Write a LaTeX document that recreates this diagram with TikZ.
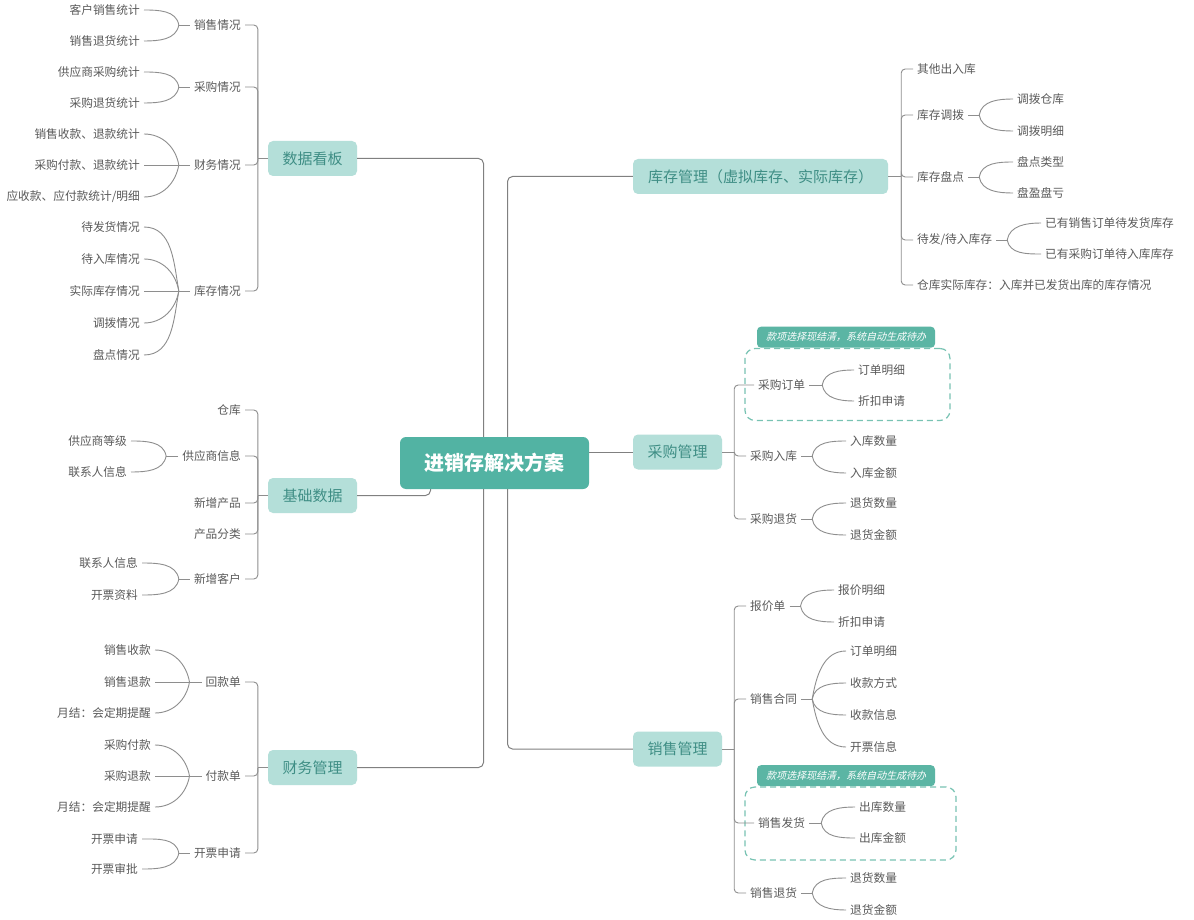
\documentclass[tikz,border=0pt]{standalone}
\usepackage{fontspec}
\setmainfont{Noto Sans CJK SC}
\newfontfamily\cjkit[FakeSlant=0.25]{Noto Sans CJK SC}
\definecolor{mainfill}{HTML}{B4DFD9}
\definecolor{maintext}{HTML}{3F8E85}
\definecolor{rootfill}{HTML}{52B3A3}
\definecolor{calfill}{HTML}{5BB5A4}
\definecolor{dashc}{HTML}{78C3B3}
\definecolor{linegray}{HTML}{8E8E8E}
\definecolor{txtgray}{HTML}{5A5A5A}
\begin{document}
\begin{tikzpicture}[x=1pt,y=1pt,
  rootbox/.style={fill=rootfill, text=white, rounded corners=6pt, minimum width=189pt, minimum height=52pt, inner sep=0pt, font=\fontsize{20}{24}\selectfont\bfseries},
  mainbox/.style={fill=mainfill, text=maintext, rounded corners=5pt, minimum width=89pt, minimum height=35pt, inner sep=0pt, font=\fontsize{15}{18}\selectfont},
  mid/.style={text=txtgray, inner sep=4pt, font=\fontsize{11.7}{14}\selectfont},
  leaf/.style={text=txtgray, inner sep=4pt, font=\fontsize{11.7}{14}\selectfont},
  conn/.style={draw=linegray, line width=0.9pt, rounded corners=4pt},
  rootline/.style={draw=linegray!90!black, line width=1pt, rounded corners=5pt},
  fan/.style={draw=linegray, line width=0.9pt},
  fanUL/.style={out=100,in=0},
  fanDL/.style={out=260,in=0},
  fanUR/.style={out=80,in=180},
  fanDR/.style={out=280,in=180},
  dbox/.style={draw=dashc, line width=1.2pt, dash pattern=on 6pt off 4pt, rounded corners=10pt, inner sep=0pt},
  callout/.style={fill=calfill, text=white, rounded corners=4pt, minimum width=178pt, minimum height=21pt, inner sep=0pt, font=\fontsize{10}{12}\cjkit}
]
\fill[white] (0,0) rectangle (1194,-920);
\useasboundingbox (0,0) rectangle (1194,-920);

% ---------- root and main topics ----------
\node[rootbox] (root) at (494.5,-463) {进销存解决方案};
\node[mainbox] (ds) at (312.5,-158.5) {数据看板};
\node[mainbox] (jd) at (312.5,-495.5) {基础数据};
\node[mainbox] (cw) at (312.5,-767.5) {财务管理};
\node[mainbox, minimum width=255pt] (kc) at (760.5,-176.5) {库存管理（虚拟库存、实际库存）};
\node[mainbox] (cg) at (677.5,-452) {采购管理};
\node[mainbox] (xs) at (677.5,-749) {销售管理};

\draw[rootline] ([xshift=-11pt]root.north) |- (ds.east);
\draw[rootline] ([xshift=-11pt]root.south) |- (cw.east);
\draw[rootline] ([xshift=-64pt]root.south) |- (jd.east);
\draw[rootline] ([xshift=13pt]root.north) |- (kc.west);
\draw[rootline] (root.east |- cg.west) -- (cg.west);
\draw[rootline] ([xshift=13pt]root.south) |- (xs.west);

% ---------- dashed boxes ----------
\node[dbox, minimum width=205pt, minimum height=72pt] (db1) at (847.5,-384.5) {};
\node[callout, anchor=south] (cl1) at ([xshift=-1.5pt]db1.north) {款项选择现结清，系统自动生成待办};
\node[dbox, minimum width=211pt, minimum height=73pt] (db2) at (850.5,-823.5) {};
\node[callout, anchor=south] (cl2) at ([xshift=-4.5pt]db2.north) {款项选择现结清，系统自动生成待办};

% ---------- 数据看板 ----------
\node[mid, anchor=east] (a1) at (245,-25) {销售情况};
\node[mid, anchor=east] (a2) at (245,-87) {采购情况};
\node[mid, anchor=east] (a3) at (245,-165) {财务情况};
\node[mid, anchor=east] (a4) at (245,-291) {库存情况};
\draw[conn] (ds.west) -- ++(-10,0) coordinate (dsj);
\foreach \n in {a1,a2,a3,a4} \draw[conn] (dsj) |- (\n.east);

\node[leaf, anchor=east] (a11) at (144,-10) {客户销售统计};
\node[leaf, anchor=east] (a12) at (144,-41) {销售退货统计};
\draw[fan] (a1.west) -- ++(-11,0) coordinate (a1j);
\draw[fan] (a1j) to[fanUL] (a11.east);
\draw[fan] (a1j) to[fanDL] (a12.east);

\node[leaf, anchor=east] (a21) at (144,-72) {供应商采购统计};
\node[leaf, anchor=east] (a22) at (144,-103) {采购退货统计};
\draw[fan] (a2.west) -- ++(-11,0) coordinate (a2j);
\draw[fan] (a2j) to[fanUL] (a21.east);
\draw[fan] (a2j) to[fanDL] (a22.east);

\node[leaf, anchor=east] (a31) at (144,-134) {销售收款、退款统计};
\node[leaf, anchor=east] (a32) at (144,-165) {采购付款、退款统计};
\node[leaf, anchor=east] (a33) at (144,-197) {应收款、应付款统计/明细};
\draw[fan] (a3.west) -- ++(-11,0) coordinate (a3j);
\draw[fan] (a3j) to[fanUL] (a31.east);
\draw[fan] (a3j) -- (a32.east);
\draw[fan] (a3j) to[fanDL] (a33.east);

\node[leaf, anchor=east] (a41) at (144,-227) {待发货情况};
\node[leaf, anchor=east] (a42) at (144,-259) {待入库情况};
\node[leaf, anchor=east] (a43) at (144,-291) {实际库存情况};
\node[leaf, anchor=east] (a44) at (144,-323) {调拨情况};
\node[leaf, anchor=east] (a45) at (144,-355) {盘点情况};
\draw[fan] (a4.west) -- ++(-11,0) coordinate (a4j);
\draw[fan] (a4j) to[fanUL] (a41.east);
\draw[fan] (a4j) to[fanUL] (a42.east);
\draw[fan] (a4j) -- (a43.east);
\draw[fan] (a4j) to[fanDL] (a44.east);
\draw[fan] (a4j) to[fanDL] (a45.east);

% ---------- 基础数据 ----------
\node[mid, anchor=east] (b1) at (245,-410) {仓库};
\node[mid, anchor=east] (b2) at (245,-456) {供应商信息};
\node[mid, anchor=east] (b3) at (245,-503) {新增产品};
\node[mid, anchor=east] (b4) at (245,-534) {产品分类};
\node[mid, anchor=east] (b5) at (245,-579) {新增客户};
\draw[conn] (jd.west) -- ++(-10,0) coordinate (jdj);
\foreach \n in {b1,b2,b3,b4,b5} \draw[conn] (jdj) |- (\n.east);

\node[leaf, anchor=east] (b21) at (131,-441) {供应商等级};
\node[leaf, anchor=east] (b22) at (131,-472) {联系人信息};
\draw[fan] (b2.west) -- ++(-12,0) coordinate (b2j);
\draw[fan] (b2j) to[fanUL] (b21.east);
\draw[fan] (b2j) to[fanDL] (b22.east);

\node[leaf, anchor=east] (b51) at (142,-563) {联系人信息};
\node[leaf, anchor=east] (b52) at (142,-595) {开票资料};
\draw[fan] (b5.west) -- ++(-11,0) coordinate (b5j);
\draw[fan] (b5j) to[fanUL] (b51.east);
\draw[fan] (b5j) to[fanDL] (b52.east);

% ---------- 财务管理 ----------
\node[mid, anchor=east] (c1) at (245,-682) {回款单};
\node[mid, anchor=east] (c2) at (245,-776) {付款单};
\node[mid, anchor=east] (c3) at (245,-853) {开票申请};
\draw[conn] (cw.west) -- ++(-10,0) coordinate (cwj);
\foreach \n in {c1,c2,c3} \draw[conn] (cwj) |- (\n.east);

\node[leaf, anchor=east] (c11) at (155,-650) {销售收款};
\node[leaf, anchor=east] (c12) at (155,-682) {销售退款};
\node[leaf, anchor=east] (c13) at (155,-713) {月结：会定期提醒};
\draw[fan] (c1.west) -- ++(-12,0) coordinate (c1j);
\draw[fan] (c1j) to[fanUL] (c11.east);
\draw[fan] (c1j) -- (c12.east);
\draw[fan] (c1j) to[fanDL] (c13.east);

\node[leaf, anchor=east] (c21) at (155,-745) {采购付款};
\node[leaf, anchor=east] (c22) at (155,-776) {采购退款};
\node[leaf, anchor=east] (c23) at (155,-807) {月结：会定期提醒};
\draw[fan] (c2.west) -- ++(-12,0) coordinate (c2j);
\draw[fan] (c2j) to[fanUL] (c21.east);
\draw[fan] (c2j) -- (c22.east);
\draw[fan] (c2j) to[fanDL] (c23.east);

\node[leaf, anchor=east] (c31) at (142,-839) {开票申请};
\node[leaf, anchor=east] (c32) at (142,-869) {开票审批};
\draw[fan] (c3.west) -- ++(-11,0) coordinate (c3j);
\draw[fan] (c3j) to[fanUL] (c31.east);
\draw[fan] (c3j) to[fanDL] (c32.east);

% ---------- 库存管理 ----------
\node[mid, anchor=west] (d1) at (913,-69) {其他出入库};
\node[mid, anchor=west] (d2) at (913,-115) {库存调拨};
\node[mid, anchor=west] (d3) at (913,-177) {库存盘点};
\node[mid, anchor=west] (d4) at (913,-240) {待发/待入库存};
\node[mid, anchor=west] (d5) at (913,-285) {仓库实际库存：入库并已发货出库的库存情况};
\draw[conn] (kc.east) -- ++(13,0) coordinate (kcj);
\foreach \n in {d1,d2,d3,d4,d5} \draw[conn] (kcj) |- (\n.west);

\node[leaf, anchor=west] (d21) at (1013,-99) {调拨仓库};
\node[leaf, anchor=west] (d22) at (1013,-131) {调拨明细};
\draw[fan] (d2.east) -- ++(11,0) coordinate (d2j);
\draw[fan] (d2j) to[fanUR] (d21.west);
\draw[fan] (d2j) to[fanDR] (d22.west);

\node[leaf, anchor=west] (d31) at (1013,-162) {盘点类型};
\node[leaf, anchor=west] (d32) at (1013,-193) {盘盈盘亏};
\draw[fan] (d3.east) -- ++(11,0) coordinate (d3j);
\draw[fan] (d3j) to[fanUR] (d31.west);
\draw[fan] (d3j) to[fanDR] (d32.west);

\node[leaf, anchor=west] (d41) at (1041,-223) {已有销售订单待发货库存};
\node[leaf, anchor=west] (d42) at (1041,-254) {已有采购订单待入库库存};
\draw[fan] (d4.east) -- ++(11,0) coordinate (d4j);
\draw[fan] (d4j) to[fanUR] (d41.west);
\draw[fan] (d4j) to[fanDR] (d42.west);

% ---------- 采购管理 ----------
\node[mid, anchor=west] (e1) at (754,-385) {采购订单};
\node[mid, anchor=west] (e2) at (746,-456) {采购入库};
\node[mid, anchor=west] (e3) at (746,-519) {采购退货};
\draw[conn] (cg.east) -- ++(12,0) coordinate (cgj);
\foreach \n in {e1,e2,e3} \draw[conn] (cgj) |- (\n.west);

\node[leaf, anchor=west] (e11) at (854,-370) {订单明细};
\node[leaf, anchor=west] (e12) at (854,-401) {折扣申请};
\draw[fan] (e1.east) -- ++(13,0) coordinate (e1j);
\draw[fan] (e1j) to[fanUR] (e11.west);
\draw[fan] (e1j) to[fanDR] (e12.west);

\node[leaf, anchor=west] (e21) at (846,-441) {入库数量};
\node[leaf, anchor=west] (e22) at (846,-473) {入库金额};
\draw[fan] (e2.east) -- ++(11,0) coordinate (e2j);
\draw[fan] (e2j) to[fanUR] (e21.west);
\draw[fan] (e2j) to[fanDR] (e22.west);

\node[leaf, anchor=west] (e31) at (846,-503) {退货数量};
\node[leaf, anchor=west] (e32) at (846,-535) {退货金额};
\draw[fan] (e3.east) -- ++(11,0) coordinate (e3j);
\draw[fan] (e3j) to[fanUR] (e31.west);
\draw[fan] (e3j) to[fanDR] (e32.west);

% ---------- 销售管理 ----------
\node[mid, anchor=west] (f1) at (746,-606) {报价单};
\node[mid, anchor=west] (f2) at (746,-699) {销售合同};
\node[mid, anchor=west] (f3) at (754,-823) {销售发货};
\node[mid, anchor=west] (f4) at (746,-893) {销售退货};
\draw[conn] (xs.east) -- ++(12,0) coordinate (xsj);
\foreach \n in {f1,f2,f3,f4} \draw[conn] (xsj) |- (\n.west);

\node[leaf, anchor=west] (f11) at (834,-590) {报价明细};
\node[leaf, anchor=west] (f12) at (834,-622) {折扣申请};
\draw[fan] (f1.east) -- ++(11,0) coordinate (f1j);
\draw[fan] (f1j) to[fanUR] (f11.west);
\draw[fan] (f1j) to[fanDR] (f12.west);

\node[leaf, anchor=west] (f21) at (846,-651) {订单明细};
\node[leaf, anchor=west] (f22) at (846,-683) {收款方式};
\node[leaf, anchor=west] (f23) at (846,-715) {收款信息};
\node[leaf, anchor=west] (f24) at (846,-747) {开票信息};
\draw[fan] (f2.east) -- ++(11,0) coordinate (f2j);
\draw[fan] (f2j) to[fanUR] (f21.west);
\draw[fan] (f2j) to[fanUR] (f22.west);
\draw[fan] (f2j) to[fanDR] (f23.west);
\draw[fan] (f2j) to[fanDR] (f24.west);

\node[leaf, anchor=west] (f31) at (855,-807) {出库数量};
\node[leaf, anchor=west] (f32) at (855,-838) {出库金额};
\draw[fan] (f3.east) -- ++(12,0) coordinate (f3j);
\draw[fan] (f3j) to[fanUR] (f31.west);
\draw[fan] (f3j) to[fanDR] (f32.west);

\node[leaf, anchor=west] (f41) at (846,-878) {退货数量};
\node[leaf, anchor=west] (f42) at (846,-910) {退货金额};
\draw[fan] (f4.east) -- ++(11,0) coordinate (f4j);
\draw[fan] (f4j) to[fanUR] (f41.west);
\draw[fan] (f4j) to[fanDR] (f42.west);
\end{tikzpicture}
\end{document}
